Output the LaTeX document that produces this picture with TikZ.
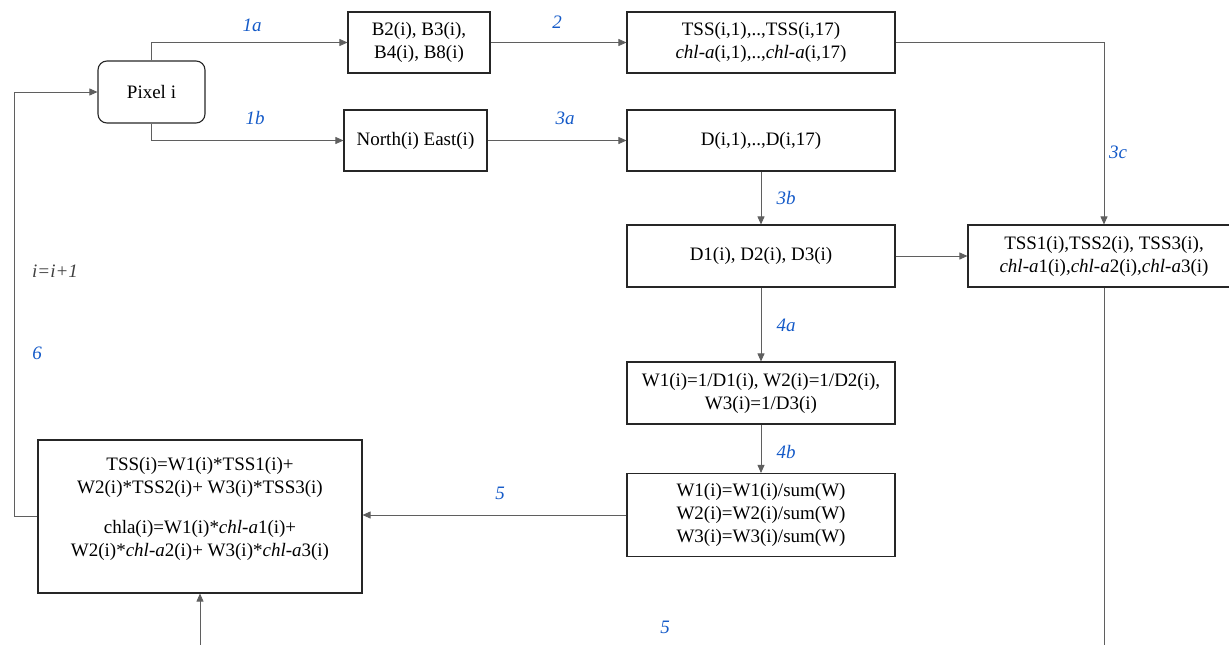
\documentclass[tikz,border=0pt]{standalone}
\usepackage{fontspec}
\setmainfont{Liberation Serif}
\usetikzlibrary{arrows.meta}
\definecolor{stepblue}{RGB}{20,90,200}
\definecolor{linegray}{RGB}{95,95,95}
\tikzset{
  box/.style={draw=black!85, line width=1.1pt, align=center, inner sep=2pt,
    font=\fontsize{19}{23}\selectfont},
  pixbox/.style={box, rounded corners=9pt},
  txt/.style={align=center, inner sep=0pt, font=\fontsize{19}{23}\selectfont},
  lbl/.style={text=stepblue, font=\fontsize{19}{23}\selectfont\itshape},
  link/.style={draw=linegray, line width=0.8pt},
  flow/.style={link, -{Triangle[length=8pt,width=7pt]}}
}
\begin{document}
\begin{tikzpicture}[x=1pt, y=-1pt]
        \useasboundingbox (0,0) rectangle (1229,645);
        % top rows
        \node[pixbox, minimum width=107pt, minimum height=62pt] (pix) at (151.5,92) {Pixel i};
        \node[box, minimum width=142pt, minimum height=61pt] (band) at (419,42.5) {B2(i), B3(i),\\B4(i), B8(i)};
        \node[box, minimum width=143pt, minimum height=61pt] (north) at (415.5,140.5) {North(i) East(i)};
        \node[box, minimum width=268pt, minimum height=61pt] (tss) at (761,42.5) {TSS(i,1),..,TSS(i,17)\\\textit{chl-a}(i,1),..,\textit{chl-a}(i,17)};
        \node[box, minimum width=268pt, minimum height=61pt] (dist) at (761,140.5) {D(i,1),..,D(i,17)};
        % middle column
        \node[box, minimum width=268pt, minimum height=62pt] (dsel) at (761,256) {D1(i), D2(i), D3(i)};
        \node[box, minimum width=272pt, minimum height=62pt] (tsel) at (1104,256) {TSS1(i),TSS2(i), TSS3(i),\\\textit{chl-a}1(i),\textit{chl-a}2(i),\textit{chl-a}3(i)};
        \node[box, minimum width=268pt, minimum height=62pt] (wgt) at (761,393) {W1(i)=1/D1(i), W2(i)=1/D2(i),\\W3(i)=1/D3(i)};
        \node[box, minimum width=268pt, minimum height=83pt] (wnorm) at (761,515) {W1(i)=W1(i)/sum(W)\\W2(i)=W2(i)/sum(W)\\W3(i)=W3(i)/sum(W)};
        % result box
        \node[box, minimum width=324pt, minimum height=153pt] (comb) at (200,516.5) {};
        \node[txt] (combtxt) at ([yshift=7.5pt]comb.center) {TSS(i)=W1(i)*TSS1(i)+\\W2(i)*TSS2(i)+ W3(i)*TSS3(i)\\[17pt]chla(i)=W1(i)*\textit{chl-a}1(i)+\\W2(i)*\textit{chl-a}2(i)+ W3(i)*\textit{chl-a}3(i)};
        \coordinate (loop) at (14,516.5);
        \coordinate (inlow) at (200,645);
        \coordinate (outlow) at (1104,645);
        % connectors
        \draw[flow] (pix.north) |- (band.west);
        \draw[flow] (pix.south) |- (north.west);
        \draw[flow] (band.east) -- (tss.west);
        \draw[flow] (north.east) -- (dist.west);
        \draw[flow] (tss.east) -| (tsel.north);
        \draw[flow] (dist.south) -- (dsel.north);
        \draw[flow] (dsel.east) -- (tsel.west);
        \draw[flow] (dsel.south) -- (wgt.north);
        \draw[flow] (wgt.south) -- (wnorm.north);
        \draw[flow] (wnorm.west) -- (wnorm.west -| comb.east);
        \draw[flow] (comb.west) -- (loop) |- (pix.west);
        \draw[flow] (inlow) -- (comb.south);
        \draw[link] (tsel.south) -- (outlow);
        % step labels
        \node[lbl] (l1a) at (252,25) {1a};
        \node[lbl] (l1b) at (255,118) {1b};
        \node[lbl] (l2) at (557,22) {2};
        \node[lbl] (l3a) at (565,118) {3a};
        \node[lbl] (l3b) at (786,198) {3b};
        \node[lbl] (l3c) at (1118,152) {3c};
        \node[lbl] (l4a) at (786,325) {4a};
        \node[lbl] (l4b) at (786,452) {4b};
        \node[lbl] (l5) at (500,493) {5};
        \node[lbl] (l5low) at (665,627) {5};
        \node[lbl] (l6) at (37,353) {6};
        \node[lbl, text=black!75] (inc) at (55,271) {i=i+1};
\end{tikzpicture}
\end{document}
